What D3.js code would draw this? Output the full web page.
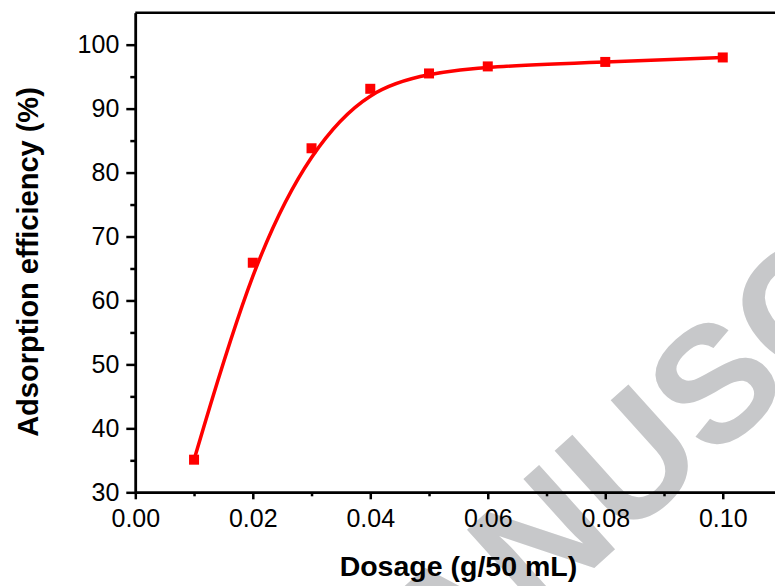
<!DOCTYPE html>
<html lang="en">

<head>
    <meta charset="UTF-8">
    <title>Adsorption efficiency vs dosage</title>
    <script src="https://d3js.org/d3.v7.min.js"></script>
    <style>
        body {
            margin: 0;
            background: #fff;
        }

        svg {
            display: block;
            font-family: "Liberation Sans", Arial, sans-serif;
        }
    </style>
</head>

<body>
    <svg width="775" height="586"></svg>

    <script>
        // values
        const dosage = [0.01, 0.02, 0.03, 0.04, 0.05, 0.06, 0.08, 0.10];
        const efficiency = [35.1, 65.9, 83.8, 93.1, 95.5, 96.6, 97.3, 98.0];
        const xTicks = [0.00, 0.02, 0.04, 0.06, 0.08, 0.10];
        const yTicks = [30, 40, 50, 60, 70, 80, 90, 100];

        const svg = d3.select("svg");

        const x = d3.scaleLinear().domain([0, 0.11]).range([135.3, 781.5]);
        const y = d3.scaleLinear().domain([30, 105]).range([492.3, 12.7]);

        // watermark behind the chart
        const wmAngle = 42;
        const wmSize = 165;
        const rad = wmAngle * Math.PI / 180;
        const u = [Math.cos(rad), -Math.sin(rad)];
        const n = [-Math.sin(rad), -Math.cos(rad)];
        const uCenter = [628, 458];
        const along = 2.638 * wmSize;  // M+A+N + half U
        const up = 0.358 * wmSize;
        const sx = uCenter[0] - along * u[0] - up * n[0];
        const sy = uCenter[1] - along * u[1] - up * n[1];
        svg.append("text")
            .attr("transform", `translate(${sx},${sy}) rotate(${-wmAngle})`)
            .attr("font-size", wmSize)
            .attr("font-weight", "bold")
            .attr("fill", "#c7c8ca")
            .text("MANUSCRIPT");

        const data = dosage.map((d, i) => ({ x: d, y: efficiency[i] }));

        // axes
        const xAxis = d3.axisBottom(x).tickValues(xTicks).tickFormat(d3.format(".2f"))
            .tickSizeInner(7).tickSizeOuter(0).tickPadding(9);
        const xMinor = d3.axisBottom(x).tickValues(d3.range(1, 12, 2).map(d => d / 100))
            .tickSize(4).tickFormat("").tickSizeOuter(0);
        const yAxis = d3.axisLeft(y).tickValues(yTicks)
            .tickSizeInner(9).tickSizeOuter(0).tickPadding(7);
        const yMinor = d3.axisLeft(y).tickValues(d3.range(35, 100, 10))
            .tickSize(5).tickFormat("").tickSizeOuter(0);

        const gx = svg.append("g").attr("transform", `translate(0,${y(30)})`).call(xAxis);
        svg.append("g").attr("transform", `translate(0,${y(30)})`).call(xMinor);
        const gy = svg.append("g").attr("transform", `translate(${x(0)},0)`).call(yAxis);
        svg.append("g").attr("transform", `translate(${x(0)},0)`).call(yMinor);

        svg.selectAll(".domain, .tick line")
            .attr("stroke", "#000")
            .attr("stroke-width", 2.5);
        svg.selectAll(".tick text")
            .attr("font-size", 25)
            .attr("fill", "#000")
            .attr("font-family", "Liberation Sans, Arial, sans-serif");
        gx.selectAll(".tick text").attr("dy", "0.75em");

        // top and right frame
        svg.append("path")
            .attr("d", `M${x(0)},${y(105)}H${x(0.11)}V${y(30)}`)
            .attr("fill", "none")
            .attr("stroke", "#000")
            .attr("stroke-width", 2.5);

        // fitted curve
        const line = d3.line()
            .x(d => x(d.x))
            .y(d => y(d.y))
            .curve(d3.curveBasis);

        svg.append("path")
            .datum(data)
            .attr("d", line)
            .attr("fill", "none")
            .attr("stroke", "#ff0000")
            .attr("stroke-width", 3.5);

        const size = 10;
        svg.selectAll("rect.pt")
            .data(data)
            .enter()
            .append("rect")
            .attr("class", "pt")
            .attr("x", d => x(d.x) - size / 2)
            .attr("y", d => y(d.y) - size / 2)
            .attr("width", size)
            .attr("height", size)
            .attr("fill", "#ff0000");

        // axis titles
        svg.append("text")
            .attr("x", (x(0) + x(0.11)) / 2)
            .attr("y", 576)
            .attr("text-anchor", "middle")
            .attr("font-size", 28.5)
            .attr("font-weight", "bold")
            .text("Dosage (g/50 mL)");

        svg.append("text")
            .attr("transform", `translate(37.5,262) rotate(-90)`)
            .attr("text-anchor", "middle")
            .attr("font-size", 29)
            .attr("font-weight", "bold")
            .text("Adsorption efficiency (%)");
    </script>
</body>

</html>
